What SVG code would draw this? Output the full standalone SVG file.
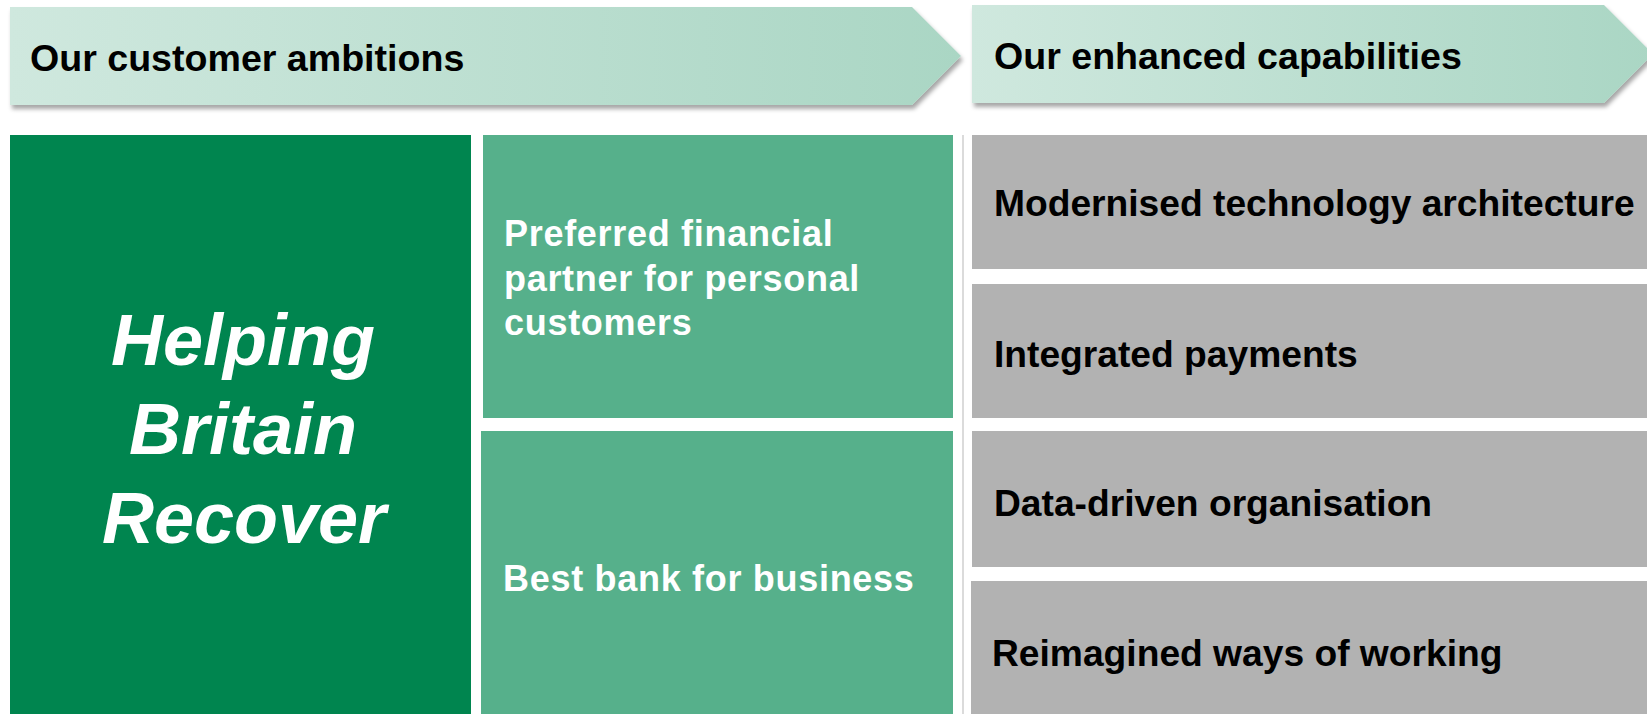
<svg xmlns="http://www.w3.org/2000/svg" width="1647" height="714" viewBox="0 0 1647 714">
  <defs>
    <linearGradient id="hdrGrad" x1="0" y1="0" x2="1" y2="0">
      <stop offset="0" stop-color="#cfe8de"/>
      <stop offset="1" stop-color="#aad6c4"/>
    </linearGradient>
    <filter id="hdrShadow" x="-5%" y="-20%" width="110%" height="150%">
      <feDropShadow dx="2" dy="4" stdDeviation="2" flood-color="#000" flood-opacity="0.35"/>
    </filter>
  </defs>
  <style>
    .hdr { fill: url(#hdrGrad); filter: url(#hdrShadow); }
    .hdr-text { font-family: "Liberation Sans", Arial, sans-serif; font-weight: bold; font-size: 37.6px; fill: #000; }
    .core { fill: #00854f; }
    .core-text { font-family: "Liberation Sans", Arial, sans-serif; font-weight: bold; font-style: italic; font-size: 72px; fill: #fff; text-anchor: middle; }
    .ambition { fill: #56b08b; }
    .ambition-text { font-family: "Liberation Sans", Arial, sans-serif; font-weight: bold; font-size: 36px; letter-spacing: 0.7px; fill: #fff; }
    .capability { fill: #b2b2b2; }
    .capability-text { font-family: "Liberation Sans", Arial, sans-serif; font-weight: bold; font-size: 37.2px; fill: #000; }
    .divider { stroke: #cfcfcf; stroke-width: 1.5; }
  </style>

  <rect x="0" y="0" width="1647" height="714" fill="#fff"/>

  <!-- Section header chevrons -->
  <g id="header-ambitions">
    <polygon class="hdr" points="10,7 912,7 961,56 912,105 10,105"/>
    <text class="hdr-text" x="30" y="71">Our customer ambitions</text>
  </g>
  <g id="header-capabilities">
    <polygon class="hdr" points="972,5 1604,5 1653,54 1604,103 972,103"/>
    <text class="hdr-text" x="994" y="69">Our enhanced capabilities</text>
  </g>

  <!-- Purpose block -->
  <g id="purpose">
    <rect class="core" x="10" y="135" width="461" height="579"/>
    <text class="core-text" x="243" y="365">Helping</text>
    <text class="core-text" x="243" y="454">Britain</text>
    <text class="core-text" x="244" y="543">Recover</text>
  </g>

  <!-- Customer ambitions -->
  <g id="ambition-personal">
    <rect class="ambition" x="483" y="135" width="470" height="283"/>
    <text class="ambition-text" x="504" y="246">Preferred financial</text>
    <text class="ambition-text" x="504" y="291">partner for personal</text>
    <text class="ambition-text" x="504" y="335">customers</text>
  </g>
  <g id="ambition-business">
    <rect class="ambition" x="481" y="431" width="472" height="283"/>
    <text class="ambition-text" x="503" y="591">Best bank for business</text>
  </g>

  <!-- Thin separator between the two halves -->
  <g id="connectors">
    <line class="divider" x1="963" y1="135" x2="963" y2="714"/>
  </g>

  <!-- Enhanced capabilities -->
  <g id="capability-technology">
    <rect class="capability" x="972" y="135" width="675" height="134"/>
    <text class="capability-text" x="994" y="216">Modernised technology architecture</text>
  </g>
  <g id="capability-payments">
    <rect class="capability" x="972" y="284" width="675" height="134"/>
    <text class="capability-text" x="994" y="367">Integrated payments</text>
  </g>
  <g id="capability-data">
    <rect class="capability" x="972" y="431" width="675" height="136"/>
    <text class="capability-text" x="994" y="516">Data-driven organisation</text>
  </g>
  <g id="capability-working">
    <rect class="capability" x="971" y="581" width="676" height="133"/>
    <text class="capability-text" x="992" y="666">Reimagined ways of working</text>
  </g>
</svg>
